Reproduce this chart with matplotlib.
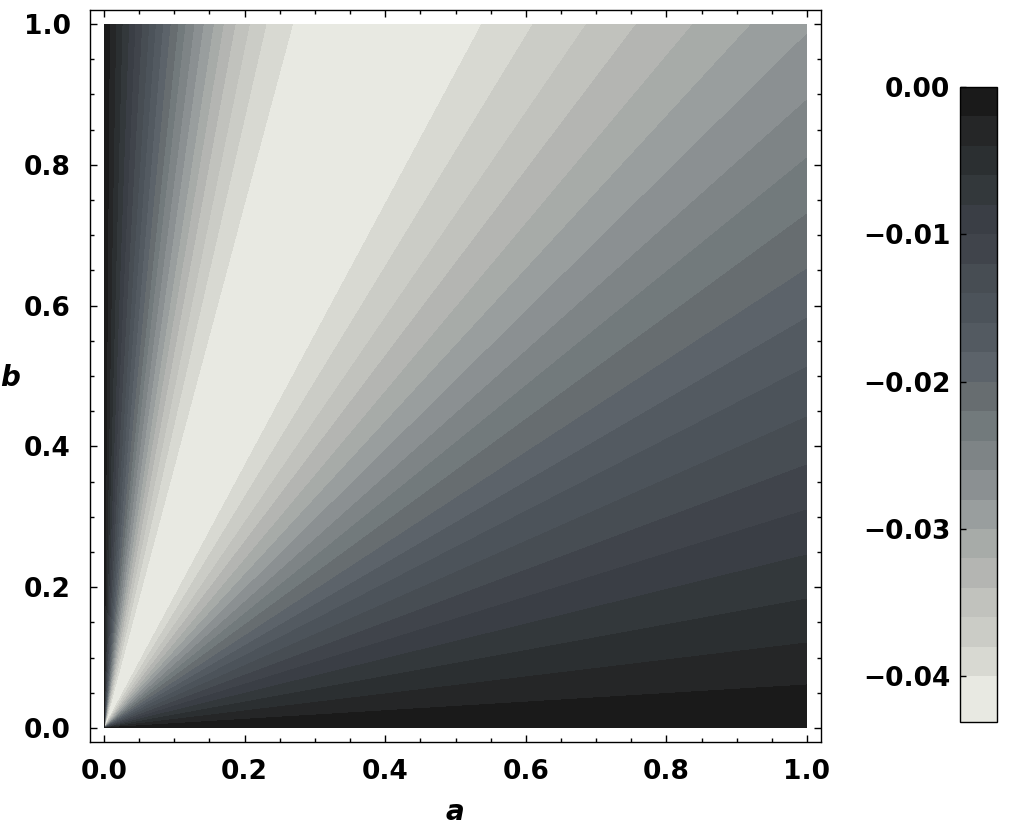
import numpy as np
import matplotlib
matplotlib.use("Agg")
import matplotlib.pyplot as plt
from matplotlib.ticker import MultipleLocator

# ---------------- data ----------------
# contour levels (band boundaries) of the field
levels_neg = [-0.002, -0.004, -0.006, -0.008, -0.010, -0.012, -0.014, -0.016,
              -0.018, -0.020, -0.022, -0.024, -0.026, -0.028, -0.030, -0.032,
              -0.034, -0.036, -0.038, -0.040]
field_max = 0.0
field_min = -0.0431

# where each level crosses the top edge (b = 1), steep side near the b axis
top_left_a = [0.0076, 0.0166, 0.0256, 0.0350, 0.0440, 0.0536, 0.0636, 0.0730,
              0.0835, 0.0940, 0.1050, 0.1152, 0.1280, 0.1410, 0.1555, 0.1697,
              0.1863, 0.2067, 0.2304, 0.2680]          # levels -0.002 .. -0.040
# minimum of the field along the top edge
top_min_a = 0.389
# crossings on the top edge, right of the light band
top_right_levels = [-0.040, -0.038, -0.036, -0.034, -0.032, -0.030]
top_right_a = [0.5377, 0.6107, 0.6866, 0.7577, 0.8383, 0.9213]
# crossings on the right edge (a = 1)
right_levels = [-0.028, -0.026, -0.024, -0.022, -0.020, -0.018, -0.016,
                -0.014, -0.012, -0.010, -0.008, -0.006, -0.004, -0.002]
right_b = [0.9858, 0.8920, 0.8097, 0.7301, 0.6520, 0.5824, 0.5128,
           0.4418, 0.3736, 0.3097, 0.2457, 0.1832, 0.1207, 0.0611]

# band colours, from the lowest band (lightest) to the highest (darkest)
band_colors = ["#e8e9e2", "#d8d9d2", "#cbccc6", "#c1c2bd", "#b4b5b2", "#a7aba8",
               "#999e9e", "#8b9092", "#7e8486", "#727a7c", "#676d70", "#5c636a",
               "#535a61", "#4c535a", "#474d53", "#40444b", "#3a3e45", "#33383b",
               "#2b2f31", "#252627", "#1a1a1a"]

xticks = [0.0, 0.2, 0.4, 0.6, 0.8, 1.0]
yticks = [0.0, 0.2, 0.4, 0.6, 0.8, 1.0]
cb_ticks = [0.0, -0.01, -0.02, -0.03, -0.04]

# ---------------- build the field (depends only on a/(a+b)) ----------------
u_nodes = [0.0]
f_nodes = [field_max]
for a_, lv in zip(top_left_a, levels_neg):
    u_nodes.append(a_ / (a_ + 1.0)); f_nodes.append(lv)
u_nodes.append(top_min_a / (top_min_a + 1.0)); f_nodes.append(field_min)
for a_, lv in zip(top_right_a, top_right_levels):
    u_nodes.append(a_ / (a_ + 1.0)); f_nodes.append(lv)
for b_, lv in zip(right_b, right_levels):
    u_nodes.append(1.0 / (1.0 + b_)); f_nodes.append(lv)
u_nodes.append(1.0); f_nodes.append(field_max)

n = 900
ga = np.linspace(0, 1, n)
A, B = np.meshgrid(ga, ga)
S = A + B
S[S == 0] = 1.0
U = A / S
F = np.interp(U, u_nodes, f_nodes)

# ---------------- figure ----------------
plt.rcParams["font.family"] = ["DejaVu Sans"]
plt.rcParams["font.weight"] = "bold"

W, H = 1027, 835
fig = plt.figure(figsize=(W / 100, H / 100), dpi=100)
ax = fig.add_axes([90 / W, 1 - 742 / H, 731 / W, 732 / H])

bounds = [field_min] + sorted(levels_neg) + [field_max + 1e-9]
cs = ax.contourf(A, B, F, levels=bounds, colors=band_colors, antialiased=False)

ax.set_xlim(-0.02, 1.02)
ax.set_ylim(-0.02, 1.02)
ax.set_xticks(xticks)
ax.set_yticks(yticks)
ax.set_xticklabels([f"{v:.1f}" for v in xticks])
ax.set_yticklabels([f"{v:.1f}" for v in yticks])
ax.xaxis.set_minor_locator(MultipleLocator(0.05))
ax.yaxis.set_minor_locator(MultipleLocator(0.05))
ax.tick_params(which="both", direction="in", top=True, right=True,
               labelsize=19, width=1.0)
ax.tick_params(axis="x", which="major", pad=12)
ax.tick_params(axis="y", which="major", pad=14)
ax.tick_params(which="major", length=5)
ax.tick_params(which="minor", length=3)
for sp in ax.spines.values():
    sp.set_linewidth(1.0)

fig.text(10 / W, 1 - 378 / H, "b", fontsize=20, fontweight="bold",
         fontstyle="italic", ha="center", va="center")
fig.text(455 / W, 1 - 812 / H, "a", fontsize=20, fontweight="bold",
         fontstyle="italic", ha="center", va="center")

# ---------------- colour bar ----------------
cax = fig.add_axes([960 / W, 1 - 722 / H, 37 / W, 635 / H])
cb = fig.colorbar(cs, cax=cax, spacing="proportional")
cb.set_ticks(cb_ticks)
cb.set_ticklabels(["0.00" if v == 0 else f"\u2212{abs(v):.2f}" for v in cb_ticks])
cax.yaxis.set_ticks_position("left")
cax.yaxis.set_label_position("left")
cax.tick_params(direction="in", length=4, width=1.0, labelsize=19, pad=7)
cax.minorticks_off()
cb.outline.set_linewidth(1.0)
cax.set_ylim(field_min, field_max)

fig.savefig("out.png", dpi=100)
